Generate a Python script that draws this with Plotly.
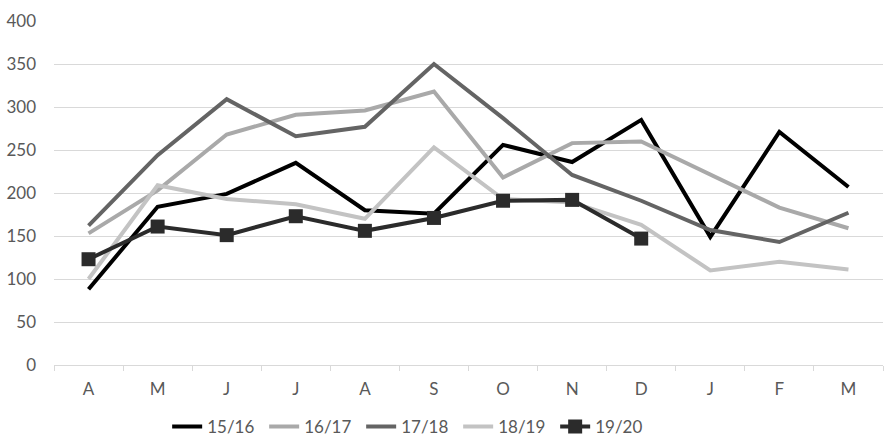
import plotly.graph_objects as go

categories = ["Apr", "May", "Jun", "Jul", "Aug", "Sep", "Oct", "Nov", "Dec", "Jan", "Feb", "Mar"]
tick_labels = ["A", "M", "J", "J", "A", "S", "O", "N", "D", "J", "F", "M"]

s1516 = [88, 184, 199, 235, 180, 176, 256, 236, 285, 149, 271, 207]
s1617 = [153, 203, 268, 291, 296, 318, 218, 258, 260, 221, 183, 159]
s1718 = [162, 244, 309, 266, 277, 350, 287, 221, 191, 157, 143, 177]
s1819 = [100, 209, 193, 187, 170, 253, 193, 189, 163, 110, 120, 111]
s1920 = [123, 161, 151, 173, 156, 171, 191, 192, 147]

series = [
    ("15/16", s1516, "#000000", False),
    ("16/17", s1617, "#a9a9a9", False),
    ("17/18", s1718, "#646464", False),
    ("18/19", s1819, "#c3c3c3", False),
    ("19/20", s1920, "#2b2b2b", True),
]

fig = go.Figure()
for name, vals, color, markers in series:
    fig.add_trace(go.Scatter(
        x=categories[:len(vals)], y=vals, name=name,
        mode="lines+markers" if markers else "lines",
        line=dict(color=color, width=4),
        marker=dict(symbol="square", size=14, color=color) if markers else None,
    ))

font = dict(family="Lato, 'Open Sans', sans-serif", size=17, color="#595959")
fig.update_layout(
    width=894, height=446,
    margin=dict(l=54, r=11, t=21, b=81, autoexpand=False),
    paper_bgcolor="white", plot_bgcolor="white",
    font=font,
    showlegend=True,
    legend=dict(orientation="h", x=0.1365, xanchor="left",
                y=1 - 427 / 446, yref="container", yanchor="middle",
                font=font, entrywidth=52, entrywidthmode="pixels", traceorder="normal",
                itemwidth=30),
)
fig.update_xaxes(
    type="category", categoryorder="array", categoryarray=categories,
    tickvals=categories, ticktext=tick_labels, tickson="boundaries",
    ticks="outside", ticklen=5, tickcolor="#d9d9d9", tickwidth=1,
    showline=True, linecolor="#d9d9d9", linewidth=1, showgrid=False,
    tickfont=font, range=[-0.5, 11.5], ticklabelstandoff=9, automargin=False,
)
fig.update_yaxes(
    range=[0, 400], tickvals=[0, 50, 100, 150, 200, 250, 300, 350, 400],
    showgrid=True, gridcolor="#d9d9d9", gridwidth=1, zeroline=False,
    showline=False, tickfont=font, ticklabelstandoff=17, automargin=False,
)
fig.write_html("out.html")
